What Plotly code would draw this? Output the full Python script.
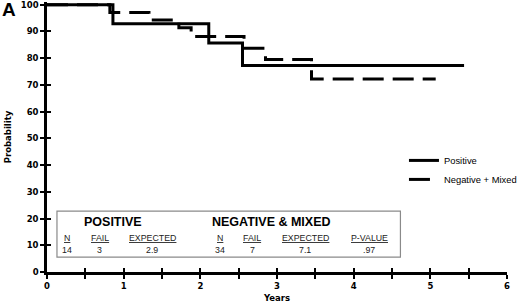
import plotly.graph_objects as go

# Kaplan-Meier step data (years, probability %)
pos_years = [0, 0.86, 2.11, 2.55, 5.44]
pos_prob = [100, 92.9, 85.7, 77.2, 77.2]
neg_years = [0, 0.82, 1.33, 1.72, 1.88, 2.57, 2.85, 3.45, 5.07]
neg_prob = [100, 97.1, 94.3, 91.4, 88.1, 83.7, 79.5, 72.2, 72.2]

series_names = ["Positive", "Negative + Mixed"]

# summary table
table_headers_pos = ["N", "FAIL", "EXPECTED"]
table_values_pos = ["14", "3", "2.9"]
table_headers_neg = ["N", "FAIL", "EXPECTED", "P-VALUE"]
table_values_neg = ["34", "7", "7.1", ".97"]
table_x_pos = [0.26, 0.69, 1.37]
table_x_neg = [2.25, 2.68, 3.37, 4.2]

x_ticks = [0, 1, 2, 3, 4, 5, 6]
y_ticks = [0, 10, 20, 30, 40, 50, 60, 70, 80, 90, 100]

tickfont = dict(family="DejaVu Sans", size=8.5, color="black", weight="bold")

fig = go.Figure()
fig.add_trace(go.Scatter(x=pos_years, y=pos_prob, mode="lines", name=series_names[0],
                         line=dict(shape="hv", color="black", width=3)))
fig.add_trace(go.Scatter(x=neg_years, y=neg_prob, mode="lines", name=series_names[1],
                         line=dict(shape="hv", color="black", width=3, dash="21px,9px")))
# empty trace on overlay axes (for crossing ticks)
fig.add_trace(go.Scatter(x=[None], y=[None], xaxis="x2", yaxis="y2", showlegend=False,
                         hoverinfo="skip"))

# table box
fig.add_shape(type="rect", xref="x", yref="y", x0=0.13, x1=4.61, y0=5.6, y1=22.8,
              line=dict(color="#8a8a8a", width=1.2), fillcolor="rgba(0,0,0,0)")

anns = []
anns.append(dict(x=0.86, y=18.6, text="<b>POSITIVE</b>",
                 font=dict(family="Liberation Sans", size=12.5, color="black")))
anns.append(dict(x=2.93, y=18.6, text="<b>NEGATIVE &amp; MIXED</b>",
                 font=dict(family="Liberation Sans", size=12.5, color="black")))
for xv, h, v in zip(table_x_pos, table_headers_pos, table_values_pos):
    anns.append(dict(x=xv, y=12.6, text="<u>" + h + "</u>",
                     font=dict(family="Liberation Sans", size=8.8, color="#222")))
    anns.append(dict(x=xv, y=8.1, text=v,
                     font=dict(family="Liberation Sans", size=8.8, color="#222")))
for xv, h, v in zip(table_x_neg, table_headers_neg, table_values_neg):
    anns.append(dict(x=xv, y=12.6, text="<u>" + h + "</u>",
                     font=dict(family="Liberation Sans", size=8.8, color="#222")))
    anns.append(dict(x=xv, y=8.1, text=v,
                     font=dict(family="Liberation Sans", size=8.8, color="#222")))
for a in anns:
    a.update(xref="x", yref="y", showarrow=False, xanchor="center", yanchor="middle")

anns.append(dict(x=-0.083, y=0.972, xref="paper", yref="paper", text="<b>A</b>",
                 showarrow=False, xanchor="center", yanchor="middle",
                 font=dict(family="Liberation Sans", size=19, color="black")))

fig.update_layout(
    width=520, height=304,
    margin=dict(l=47, r=13, t=2, b=32, autoexpand=False),
    paper_bgcolor="white", plot_bgcolor="white",
    annotations=anns,
    showlegend=True,
    legend=dict(x=0.776, y=0.467, xanchor="left", yanchor="top",
                font=dict(family="Liberation Sans", size=9.4, color="black"),
                bgcolor="rgba(0,0,0,0)", tracegroupgap=0),
    xaxis=dict(range=[0, 6], tickvals=x_ticks, showgrid=False, zeroline=False,
               showline=True, linecolor="black", linewidth=2.5,
               ticks="outside", ticklen=4, tickwidth=2, tickcolor="black",
               minor=dict(dtick=0.5, ticks="outside", ticklen=4, tickwidth=2, tickcolor="black"),
               tickfont=tickfont, ticklabeloverflow="allow",
               title=dict(text="Years", font=tickfont, standoff=6)),
    yaxis=dict(range=[0, 101], tickvals=y_ticks, showgrid=False, zeroline=False,
               showline=True, linecolor="black", linewidth=2.5,
               ticks="outside", ticklen=4, tickwidth=2, tickcolor="black",
               tickfont=tickfont, ticklabeloverflow="allow",
               title=dict(text="Probability", font=tickfont, standoff=8)),
    xaxis2=dict(range=[0, 6], overlaying="x", anchor="y2", tickvals=x_ticks,
                showticklabels=False, showgrid=False, zeroline=False,
                ticks="inside", ticklen=4, tickwidth=2, tickcolor="black",
                minor=dict(dtick=0.5, ticks="inside", ticklen=4, tickwidth=2, tickcolor="black")),
    yaxis2=dict(range=[0, 101], overlaying="y", anchor="x2", tickvals=y_ticks,
                showticklabels=False, showgrid=False, zeroline=False,
                ticks="inside", ticklen=4, tickwidth=2, tickcolor="black"),
)

fig.write_html("out.html", config={"displayModeBar": False},
               post_script="document.body.style.margin='0';")
